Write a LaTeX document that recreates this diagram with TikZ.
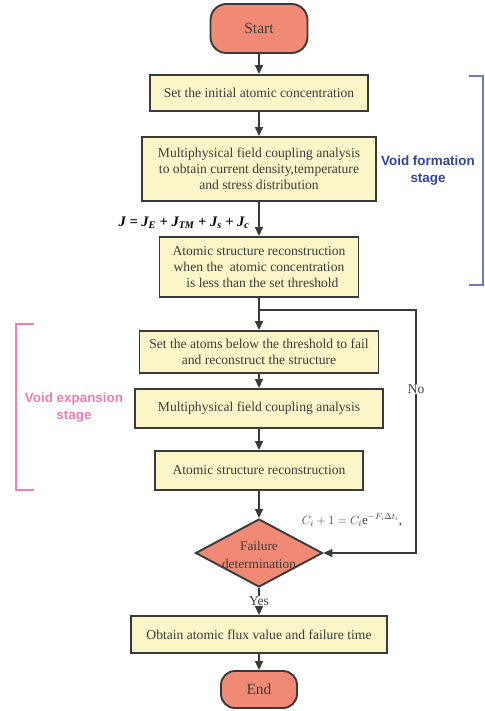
\documentclass[tikz,border=0pt]{standalone}
\usepackage{fontspec}
\setmainfont{Liberation Serif}
\newfontfamily\labelfont{Liberation Sans}
\usetikzlibrary{arrows.meta,shapes.geometric}
\definecolor{boxfill}{HTML}{FAF6C8}
\definecolor{salmon}{HTML}{F08A75}
\definecolor{linec}{HTML}{3A3A3A}
\definecolor{txtc}{HTML}{3C3C3C}
\definecolor{bluec}{HTML}{33449E}
\definecolor{bluebr}{HTML}{6A7AC4}
\definecolor{pinkc}{HTML}{EE7DB0}
\tikzset{
  procbox/.style={draw=linec, line width=1.9pt, fill=boxfill, inner sep=0pt, align=center, text=txtc, font=\fontsize{13.6}{16.2}\selectfont},
  term/.style={draw=linec, line width=1.9pt, fill=salmon, rounded corners=16pt, inner sep=0pt, text=txtc, font=\fontsize{15.5}{18}\selectfont},
  arr/.style={draw=linec, line width=1.7pt, -{Triangle[length=9pt,width=8pt]}},
  stage/.style={font=\labelfont\bfseries\fontsize{13.4}{17}\selectfont, align=center},
  small/.style={text=txtc, font=\fontsize{13.5}{15}\selectfont}
}
\begin{document}
\begin{tikzpicture}[x=1pt,y=-1pt]
\useasboundingbox (0,0) rectangle (484,711);
% terminals
\node[term, minimum width=97pt, minimum height=49pt] (start) at (259,28.5) {Start};
\node[term, minimum width=76pt, minimum height=37pt, rounded corners=14pt] (end) at (259,689.5) {End};
% boxes
\node[procbox, minimum width=218pt, minimum height=36pt] (b1) at (259,93) {Set the initial atomic concentration};
\node[procbox, minimum width=234pt, minimum height=64pt] (b2) at (259,169) {Multiphysical field coupling analysis\\to obtain current density,temperature\\and stress distribution};
\node[procbox, minimum width=199pt, minimum height=60pt] (b3) at (259,267) {Atomic structure reconstruction\\when the~ atomic concentration\\~~is less than the set threshold};
\node[procbox, minimum width=239pt, minimum height=42pt] (b4) at (259,352) {Set the atoms below the threshold to fail\\and reconstruct the structure};
\node[procbox, minimum width=248pt, minimum height=39pt] (b5) at (259,408.5) {Multiphysical field coupling analysis};
\node[procbox, minimum width=208pt, minimum height=39pt] (b6) at (259,470.5) {Atomic structure reconstruction};
\node[diamond, draw=linec, line width=1.9pt, fill=salmon, minimum width=127pt, minimum height=68pt, inner sep=0pt, aspect=1.87] (dia) at (259,553) {};
\node[text=txtc, align=center, font=\fontsize{13.3}{18}\selectfont] (diatext) at (259,555) {Failure\\determination};
\node[procbox, minimum width=256pt, minimum height=37pt] (b7) at (259,634.5) {Obtain atomic flux value and failure time};
% junction and loop
\coordinate (jn) at (259,310);
\coordinate (jr) at (416,310);
\coordinate (dr) at (416,553);
% connectors
\draw[arr] (start) -- (b1);
\draw[arr] (b1) -- (b2);
\draw[arr] (b2) -- (b3);
\draw[arr] (b3) -- (b4);
\draw[arr] (b4) -- (b5);
\draw[arr] (b5) -- (b6);
\draw[arr] (b6) -- (dia);
\draw[arr] (dia) -- (b7);
\draw[arr] (b7) -- (end);
\draw[arr] (jn) -- (jr) -- (dr) -- (dia.east);
% labels
\node[small, fill=white, inner sep=1pt] (no) at (416,389) {No};
\node[small, fill=white, inner sep=1pt] (yes) at (259,601) {Yes};
\node[anchor=east, font=\fontsize{14.5}{16}\selectfont\bfseries\itshape, text=black] (jeq) at (253,223) {J = J\textsubscript{E} + J\textsubscript{TM} + J\textsubscript{s} + J\textsubscript{c}};
\node[text=txtc, font=\fontsize{13}{15}\selectfont] (ceq) at (352,520) {$C_i+1=C_i\mathrm{e}^{-F_i\Delta t_i}$,};
% stage labels
\node[stage, text=bluec] (vf) at (428,171) {Void formation\\stage};
\node[stage, text=pinkc] (ve) at (74,408) {Void expansion\\stage};
% brackets
\draw[draw=bluebr, line width=1.4pt] (469,76) -- (483,76) -- (483,285) -- (469,285);
\draw[draw=pinkc, line width=1.4pt] (34,324) -- (16,324) -- (16,490) -- (34,490);
\end{tikzpicture}
\end{document}
